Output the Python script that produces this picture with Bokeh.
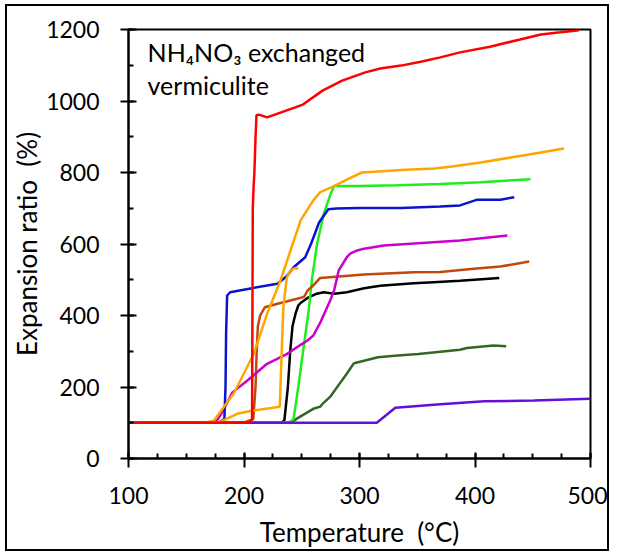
from bokeh.plotting import figure
from bokeh.models import Range1d, SingleIntervalTicker, Label
from bokeh.embed import file_html
from bokeh.resources import INLINE

# ---- data ----
red_x = [100, 205, 207, 207.2, 207.4, 207.6, 208.3, 209, 210, 210.8, 213, 220, 251, 268, 285, 305, 318, 336, 353, 370, 387, 413, 439, 457, 474, 490]
red_y = [100, 100, 110, 300, 500, 700, 760, 800, 900, 960, 962, 954, 990, 1029, 1057, 1080, 1091, 1099, 1110, 1122, 1136, 1152, 1172, 1186, 1192, 1198]

orange_x = [100, 165, 174, 191, 208.5, 220, 231.6, 249, 260, 266, 278, 289, 302, 340, 365, 380, 405, 431, 457, 477]
orange_y = [100, 100, 106, 181, 293, 405, 498, 666, 722, 745, 762, 780, 800, 808, 811, 817, 828, 842, 856, 867]

orange2_x = [100, 170, 180, 194, 205.6, 231, 232, 234, 237, 240, 244, 247]
orange2_y = [100, 100, 103, 125, 133, 145, 240, 420, 505, 525, 533, 531]

blue_x = [100, 178, 183, 184, 184.5, 185.4, 188, 208, 229, 237, 243, 253, 258, 265, 273, 280, 300, 336, 370, 387, 402, 422, 434]
blue_y = [100, 100, 110, 200, 350, 456, 465, 477, 489, 510, 535, 563, 600, 660, 697, 699, 701, 701, 705, 708, 724, 724, 731]

lime_x = [100, 240, 243, 247, 252, 256, 259, 263, 269, 275, 278, 300, 333, 370, 405, 448]
lime_y = [100, 100, 112, 200, 320, 414, 505, 595, 684, 740, 762, 762, 764, 768, 773, 781]

black_x = [100, 233, 235, 238, 240, 242, 244.6, 247, 249, 255, 263, 269, 278, 289, 304, 318, 347, 364, 387, 421]
black_y = [100, 100, 108, 200, 300, 370, 405, 428, 435, 449, 461, 465, 461, 465, 476, 483, 490, 493, 497, 505]

brown_x = [100, 198, 202, 208, 210, 211, 212, 214, 218, 229, 246, 252, 255, 260, 266, 304, 347, 370, 399, 422, 447]
brown_y = [100, 100, 103, 110, 200, 300, 370, 400, 423, 433, 447, 452, 470, 484, 505, 515, 521, 522, 531, 537, 551]

magenta_x = [100, 172, 177, 182, 190, 203, 220, 237, 249, 255, 260, 266, 275, 278, 282, 289, 292, 298, 304, 321, 364, 387, 428]
magenta_y = [100, 100, 108, 134, 185, 218, 265, 292, 318, 330, 344, 380, 445, 470, 526, 563, 573, 582, 587, 596, 605, 610, 624]

dkgreen_x = [100, 238, 243, 249, 260, 266, 268, 275, 284, 289, 295, 297, 316, 333, 351, 387, 393, 416, 427]
dkgreen_y = [100, 100, 106, 118, 139, 145, 153, 174, 215, 237, 266, 268, 283, 288, 292, 304, 309, 316, 314]

purple_x = [100, 315, 331, 370, 408, 451, 500]
purple_y = [100, 100, 142, 152, 160, 162, 167]

FONT = "Lato"

p = figure(width=604, height=547, output_backend="svg", toolbar_location=None,
           x_range=Range1d(100, 500), y_range=Range1d(0, 1200),
           min_border_left=121, min_border_right=21, min_border_top=23, min_border_bottom=95)
p.styles = {"border": "2px solid black", "margin-left": "5px", "margin-top": "4px"}
p.xgrid.visible = False
p.ygrid.visible = False
p.outline_line_color = "black"
p.outline_line_width = 2
p.outline_line_alpha = 1

p.xaxis.ticker = SingleIntervalTicker(interval=100, num_minor_ticks=4)
p.yaxis.ticker = SingleIntervalTicker(interval=200, num_minor_ticks=2)

for ax in (p.xaxis[0], p.yaxis[0]):
    ax.axis_line_width = 2
    ax.axis_line_color = "black"
    ax.major_tick_line_width = 2
    ax.minor_tick_line_width = 2
    ax.major_tick_line_color = "black"
    ax.minor_tick_line_color = "black"
    ax.major_label_text_font = FONT
    ax.major_label_text_font_size = "23px"
    ax.major_label_text_color = "black"
    ax.axis_label_text_font = FONT
    ax.axis_label_text_font_size = "26px"
    ax.axis_label_text_font_style = "normal"
    ax.axis_label_text_color = "black"

p.xaxis.major_tick_in = 6
p.xaxis.major_tick_out = 9
p.xaxis.minor_tick_in = 5
p.xaxis.minor_tick_out = 0
p.xaxis.major_label_standoff = 19
p.xaxis.axis_label = "Temperature\u00a0\u00a0(°C)"
p.xaxis.axis_label_standoff = 9

p.yaxis.major_tick_in = 8
p.yaxis.major_tick_out = 8
p.yaxis.minor_tick_in = 5
p.yaxis.minor_tick_out = 0
p.yaxis.major_label_standoff = 21
p.yaxis.axis_label = "Expansion ratio\u00a0\u00a0(%)"
p.yaxis.axis_label_standoff = 0

LW = 2.5
p.line(black_x, black_y, line_color="black", line_width=LW)
p.line(dkgreen_x, dkgreen_y, line_color="#336622", line_width=LW)
p.line(lime_x, lime_y, line_color="#1EEE1E", line_width=LW)
p.line(brown_x, brown_y, line_color="#BF4A0C", line_width=LW)
p.line(magenta_x, magenta_y, line_color="#CC00CC", line_width=LW)
p.line(blue_x, blue_y, line_color="#0A14CC", line_width=LW)
p.line(orange2_x, orange2_y, line_color="#FFA500", line_width=LW)
p.line(orange_x, orange_y, line_color="#FFA500", line_width=LW)
p.line(purple_x, purple_y, line_color="#6410D8", line_width=LW)
p.line(red_x, red_y, line_color="#FF0000", line_width=LW)

p.add_layout(Label(x=116.5, y=1138, text="NH\u2084NO\u2083 exchanged", text_font=FONT,
                   text_font_size="25px", text_color="black", text_baseline="alphabetic"))
p.add_layout(Label(x=116.5, y=1045, text="vermiculite", text_font=FONT,
                   text_font_size="25px", text_color="black", text_baseline="alphabetic"))

open("out.html", "w").write(file_html(p, INLINE))
